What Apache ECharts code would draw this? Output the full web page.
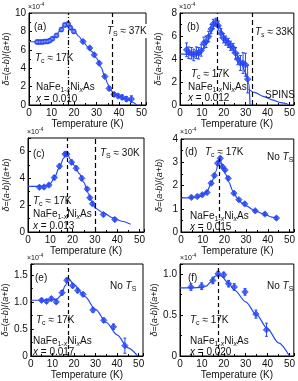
<!DOCTYPE html>
<html><head><meta charset="utf-8">
<script src="https://cdn.jsdelivr.net/npm/echarts@6/dist/echarts.min.js"></script>
<style>html,body{margin:0;padding:0;background:#fff}#c{width:298px;height:381px}</style>
</head><body><div id="c"></div>
<script>
// ---------- data ----------
// (a) x = 0.010
const tempA = [3.6,4.7,5.9,7.0,8.2,9.2,10.4,12.2,14.4,15.9,17.4,18.4,19.9,24.0,27.0,29.0,31.2,33.7,35.6,37.8,39.6,41.4,43.3,45.5];
const deltaA = [6.85,6.85,6.85,6.9,6.9,7.0,7.2,7.56,8.2,8.7,8.8,8.4,8.0,6.9,6.2,5.45,4.55,3.1,1.8,1.15,0.98,0.84,0.65,0.65];
const errA = [0.2,0.2,0.2,0.2,0.2,0.2,0.2,0.2,0.2,0.2,0.25,0.2,0.2,0.15,0.15,0.15,0.15,0.15,0.2,0.2,0.2,0.25,0.25,0.35];
const fitA = [[0,6.9],[4,6.85],[8,6.9],[10,7.0],[12,7.5],[14,8.2],[16,8.7],[17,8.8],[18,8.65],[20,8.1],[22,7.5],[24,6.9],[26,6.35],[28,5.8],[30,5.1],[32,4.1],[34,2.9],[35,2.3],[36,1.7],[38,1.2],[40,0.95],[42,0.75],[44,0.55],[46,0.3],[48,0]];
// (b) x = 0.012
const tempB = [3.0,4.0,5.2,6.3,7.5,8.5,9.7,10.9,11.9,13.1,14.2,15.2,16.4,17.5,18.7,19.9,20.9,22.1,23.1,24.3,25.4,26.4,27.6,28.8,29.9,30.9];
const deltaB = [4.8,4.55,4.5,4.35,4.55,4.5,4.75,5.4,5.5,5.95,6.6,7.05,7.2,6.9,6.25,5.8,5.6,5.4,5.15,4.95,4.5,4.0,3.65,3.65,3.5,2.25];
const errB = [0.6,0.5,0.5,0.5,0.5,0.5,0.5,0.5,0.5,0.45,0.4,0.4,0.35,0.4,0.4,0.4,0.4,0.4,0.4,0.4,0.5,0.5,0.65,0.9,1.0,1.2];
const fitB = [[0,4.45],[5,4.4],[9,4.45],[12,5.3],[14,6.3],[16,7.0],[17,7.1],[18,6.8],[20,6.0],[22,5.4],[24,4.9],[26,4.3],[28,3.6],[30,2.8],[31.5,1.8],[32,0]];
const spinsB = [[31.3,1.38],[34,1.1],[38,0.75],[42,0.45],[46,0.2],[50,0]];
// (c) x = 0.013
const tempC = [5.1,7.2,9.4,11.8,14.1,16.6,17.4,19.5,21.6,24.1,26.5,27.7,28.9,33.8,38.9];
const deltaC = [3.33,3.35,3.5,4.05,4.9,5.8,5.8,5.2,4.75,4.0,3.2,2.55,2.1,1.3,0.93];
const errC = [0.12,0.12,0.12,0.15,0.15,0.15,0.15,0.15,0.15,0.15,0.12,0.12,0.12,0.12,0.12];
const fitC = [[0,3.4],[5,3.4],[8,3.45],[10,3.6],[12,4.1],[14,4.8],[16,5.5],[17.5,5.9],[19,5.4],[21,4.9],[23,4.35],[25,3.7],[27,2.9],[28.5,2.3],[29.5,2.0],[30,1.78],[34,1.4],[38,1.05],[42,0.8],[46,0.58]];
// (d) x = 0.015
const tempD = [4.8,7.5,9.8,12.0,13.9,15.4,16.9,18.1,19.1,20.3,21.8,24.4,26.7,29.4,34.2,38.7,44.0];
const deltaD = [1.49,1.53,1.6,1.7,2.1,2.43,2.96,3.17,2.81,2.67,2.31,1.67,1.39,1.21,0.91,0.77,0.6];
const errD = [0.06,0.06,0.06,0.06,0.07,0.07,0.08,0.08,0.07,0.07,0.07,0.06,0.06,0.06,0.06,0.06,0.06];
const fitD = [[0,1.47],[5,1.47],[8,1.5],[10,1.58],[12,1.75],[14,2.1],[16,2.6],[17.8,3.2],[19,2.85],[20.5,2.5],[22,2.15],[24,1.75],[26,1.45],[28,1.25],[30,1.12],[34,0.92],[38,0.78],[42,0.64],[44.5,0.57]];
// (e) x = 0.017
const tempE = [5.0,7.3,9.5,11.8,14.5,16.7,19.4,21.7,24.2,28.8,33.8,38.3,43.6];
const deltaE = [1.03,1.01,1.06,1.0,1.17,1.40,1.30,1.21,1.14,0.85,0.66,0.54,0.19];
const errE = [0.03,0.03,0.03,0.03,0.04,0.04,0.04,0.04,0.03,0.04,0.04,0.05,0.14];
const fitE = [[0,1.03],[5,1.03],[10,1.04],[12,1.05],[14,1.12],[16,1.3],[17.5,1.43],[20,1.32],[25,1.1],[30,0.86],[35,0.62],[40,0.39],[45,0.15],[49.5,0]];
// (f) x = 0.020
const tempF = [5.0,9.9,15.0,17.4,20.0,22.2,24.8,29.7,34.7,39.5];
const deltaF = [0.84,0.85,0.92,1.0,0.99,0.88,0.84,0.78,0.51,0.32];
const errF = [0.04,0.04,0.04,0.03,0.03,0.04,0.04,0.04,0.05,0.08];
const fitF = [[0,0.83],[5,0.83],[10,0.835],[12,0.85],[14,0.9],[16,0.97],[17.5,1.0],[19,0.97],[22,0.89],[25,0.8],[30,0.66],[35,0.5],[40,0.33],[45,0.16],[50,0]];
// axis ranges
const yMax = [10, 8, 7, 4, 1.7, 1.12];
const yStep = [2, 2, 2, 1, 0.5, 0.5];
const xTicks = [0,10,20,30,40,50];

// ---------- chart ----------
const BLUE = '#2747f2';
const FONT = 'Liberation Sans, Arial, sans-serif';
const grids = [
  {left:29, top:13, width:117, height:92},
  {left:180, top:13, width:115, height:92},
  {left:28, top:138, width:116, height:94},
  {left:181, top:139, width:114, height:93},
  {left:27, top:264, width:116, height:93},
  {left:180, top:264, width:115, height:93}
];
const panels = [
  {t:tempA,d:deltaA,e:errA,fit:fitA},
  {t:tempB,d:deltaB,e:errB,fit:fitB},
  {t:tempC,d:deltaC,e:errC,fit:fitC},
  {t:tempD,d:deltaD,e:errD,fit:fitD},
  {t:tempE,d:deltaE,e:errE,fit:fitE},
  {t:tempF,d:deltaF,e:errF,fit:fitF}
];
const vlines = [
  [{x:17.4,type:[5,2,1,2]},{x:36.8,type:[5,3]}],
  [{x:16.9,type:[4,3]},{x:33.2,type:[5,3]}],
  [{x:17.4,type:[4,3]},{x:30,type:[5,3]}],
  [{x:17.6,type:[4,3],top:3.15}],
  [{x:17.4,type:[4,3]}],
  [{x:17.6,type:[4,3]}]
];

const xAxes = grids.map((g,i)=>({
  gridIndex:i, type:'value', min:0, max:52, interval:10,
  axisLine:{show:true,onZero:false,lineStyle:{color:'#000',width:1}},
  axisTick:{show:true,inside:true,length:3,lineStyle:{color:'#000'}},
  minorTick:{show:true,splitNumber:2,length:2,lineStyle:{color:'#000'}},
  splitLine:{show:false},
  axisLabel:{show:true,margin:3,fontSize:10,color:'#111',fontFamily:FONT,
    formatter:v=> (xTicks.indexOf(v)>=0 ? String(v) : ''), showMaxLabel:false},
  name:'Temperature (K)', nameLocation:'middle', nameGap:14,
  nameTextStyle:{fontSize:10,color:'#111',fontFamily:FONT}
}));
const yAxes = grids.map((g,i)=>({
  gridIndex:i, type:'value', min:0, max:yMax[i], interval:yStep[i],
  axisLine:{show:true,lineStyle:{color:'#000',width:1}},
  axisTick:{show:true,inside:true,length:3,lineStyle:{color:'#000'}},
  minorTick:{show:true,splitNumber:2,length:2,lineStyle:{color:'#000'}},
  splitLine:{show:false},
  axisLabel:{show:true,margin:3,fontSize:10,color:'#111',fontFamily:FONT,
    formatter:v=>{
      const k = Math.round(v/yStep[i]*1000)/1000;
      if (Math.abs(k-Math.round(k))>1e-6) return '';
      if (v===0) return '0';
      return yStep[i]<1 ? v.toFixed(1) : String(v);
    }},
  name:'{i|δ}=({i|a}-{i|b})/({i|a}+{i|b})', nameLocation:'middle', nameRotate:90, nameGap:17,
  nameTextStyle:{fontSize:9,color:'#111',fontFamily:FONT,
    rich:{i:{fontStyle:'italic',fontSize:9,fontFamily:FONT,color:'#111'}}}
}));

const series = [];
panels.forEach((p,i)=>{
  series.push({type:'line', xAxisIndex:i, yAxisIndex:i, data:p.fit, smooth:0.3, smoothMonotone:'x', symbol:'none',
    lineStyle:{color:BLUE,width:1.2}, z:2,
    markLine:{silent:true, symbol:'none', label:{show:false},
      data: vlines[i].map(v=>{
        const top = v.top!==undefined ? v.top : yMax[i];
        return [{coord:[v.x,0],lineStyle:{color:'#000',width:1.2,type:v.type}},{coord:[v.x,top]}];
      })
    }});
  series.push({type:'custom', xAxisIndex:i, yAxisIndex:i, z:3,
    data:p.t.map((t,k)=>[t,p.d[k],p.e[k]]),
    renderItem:(params,api)=>{
      const x=api.value(0), y=api.value(1), e=api.value(2);
      const lo=api.coord([x,y-e]), hi=api.coord([x,y+e]);
      const w=1.5;
      return {type:'group',children:[
        {type:'line',shape:{x1:lo[0],y1:lo[1],x2:hi[0],y2:hi[1]},style:{stroke:BLUE,lineWidth:1}},
        {type:'line',shape:{x1:lo[0]-w,y1:lo[1],x2:lo[0]+w,y2:lo[1]},style:{stroke:BLUE,lineWidth:1}},
        {type:'line',shape:{x1:hi[0]-w,y1:hi[1],x2:hi[0]+w,y2:hi[1]},style:{stroke:BLUE,lineWidth:1}}
      ]};
    }});
  series.push({type:'scatter', xAxisIndex:i, yAxisIndex:i, z:4,
    data:p.t.map((t,k)=>[t,p.d[k]]),
    symbol:(val,params)=> (i===0 && params.dataIndex<13) ? 'circle' : 'diamond',
    symbolSize:(val,params)=> (i===0 && params.dataIndex<13) ? 5 : 6.5,
    itemStyle:{color:BLUE, borderColor:BLUE, borderWidth:0.8}
  });
});
series.push({type:'scatter', xAxisIndex:0, yAxisIndex:0, z:5,
  data:tempA.slice(0,13).map((t,k)=>[t,deltaA[k]]), symbol:'circle', symbolSize:2.2,
  itemStyle:{color:'#9fb0ff'}});
series.push({type:'line', xAxisIndex:1, yAxisIndex:1, data:spinsB, smooth:0.3, smoothMonotone:'x', symbol:'none',
  lineStyle:{color:BLUE,width:1.2}, z:2});

// ---------- text annotations ----------
const RICH = {
  n:{fontSize:10,fontFamily:FONT,color:'#111',lineHeight:14},
  it:{fontSize:10,fontFamily:FONT,color:'#111',fontStyle:'italic',lineHeight:14},
  s:{fontSize:7,fontFamily:FONT,color:'#111',verticalAlign:'bottom',lineHeight:9},
  si:{fontSize:7,fontFamily:FONT,color:'#111',fontStyle:'italic',verticalAlign:'bottom',lineHeight:9},
  p:{fontSize:5,fontFamily:FONT,color:'#111',verticalAlign:'top',lineHeight:6},
  m:{fontSize:7,fontFamily:FONT,color:'#111',lineHeight:10}
};
const DY = 4;
function txt(x,y,text,bg){
  const st = {text:text, rich:RICH, fill:'#111', font:'10px '+FONT, align:'left', verticalAlign:'middle'};
  if (bg) { st.backgroundColor = '#fff'; st.padding = [0,1,0,1]; }
  return {type:'text', x:x, y:y+DY, z:100, style:st};
}
function ten(x,y){ return {type:'text', x:x, y:y, z:100, style:{text:'{m|×10}{p|-4}', rich:RICH, fill:'#111', font:'7px '+FONT, align:'left', verticalAlign:'middle'}}; }
const TC = '{it|T}{s|c}{n| ≈ 17K}';
const NAF = '{n|NaFe}{s|1-}{si|x}{n|Ni}{si|x}{n|As}';
const graphic = [
  ten(28,7), txt(34,23,'{n|(a)}'), txt(106,27,'{it|T}{s|S}{n| ≈ 37K}',true),
  txt(35,54,TC), txt(36,83,NAF), txt(36,95,'{it|x}{n| = 0.010}'),
  ten(179,7), txt(187,23,'{n|(b)}'), txt(255,28,'{it|T}{si|s}{n| ≈ 33K}'),
  txt(191,70,TC), txt(188,83,NAF), txt(188,94,'{it|x}{n| = 0.012}'), txt(265,91,'{n|SPINS}'),
  ten(27,132), txt(33,150,'{n|(c)}'), txt(100,149,'{it|T}{s|S}{n| ≈ 30K}'),
  txt(33,197,TC), txt(33,210,NAF), txt(33,222,'{it|x}{n| = 0.013}'),
  ten(180,132), txt(185,148,'{n|(d)}'), txt(205,148,TC), txt(267,153,'{n|No }{it|T}{s|S}'),
  txt(190,212,NAF), txt(190,223,'{it|x}{n| = 0.015}'),
  ten(27,258), txt(35,274,'{n|(e)}'), txt(110,282,'{n|No }{it|T}{s|S}'),
  txt(36,316,TC), txt(33,337,NAF), txt(33,348,'{it|x}{n| = 0.017}'),
  ten(180,258), txt(188,274,'{n|(f)}'), txt(267,282,'{n|No }{it|T}{s|S}'),
  txt(190,316,TC), txt(190,337,NAF), txt(190,348,'{it|x}{n| = 0.020}')
];

const chart = echarts.init(document.getElementById('c'), null, {renderer:'canvas'});
chart.setOption({
  animation:false,
  backgroundColor:'#fff',
  grid: grids.map(g=>Object.assign({show:true,borderColor:'#000',borderWidth:1,containLabel:false},g)),
  xAxis:xAxes, yAxis:yAxes, series:series, graphic:graphic
});
</script></body></html>
